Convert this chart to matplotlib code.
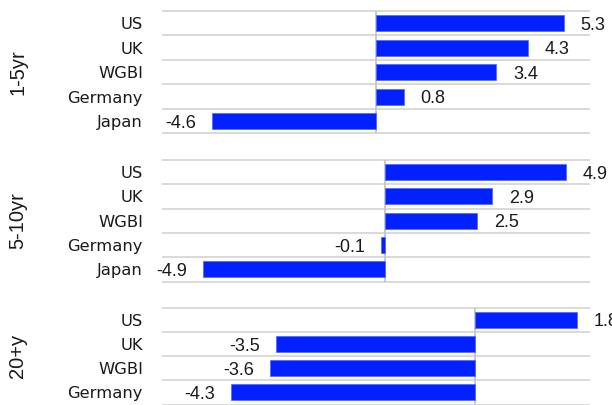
import matplotlib.pyplot as plt
import matplotlib

matplotlib.rcParams['font.family'] = ['DejaVu Sans']

# data
panels = ['1-5yr', '5-10yr', '20+y']
cats_1_5 = ['US', 'UK', 'WGBI', 'Germany', 'Japan']
vals_1_5 = [5.3, 4.3, 3.4, 0.8, -4.6]
cats_5_10 = ['US', 'UK', 'WGBI', 'Germany', 'Japan']
vals_5_10 = [4.9, 2.9, 2.5, -0.1, -4.9]
cats_20 = ['US', 'UK', 'WGBI', 'Germany']
vals_20 = [1.8, -3.5, -3.6, -4.3]

cats_all = [cats_1_5, cats_5_10, cats_20]
vals_all = [vals_1_5, vals_5_10, vals_20]
xlims = [(-6, 6), (-6, 5.5), (-5.5, 2)]

W, H = 612, 405
# axes boxes in pixels (top, bottom)
boxes = [(11, 133.3), (160, 281.5), (307.7, 404.5)]
left, right = 162.5, 588.5

bar_color = '#0320FF'
grid_color = '#d9d9d9'
txt = '#1a1a1a'

fig = plt.figure(figsize=(W / 100, H / 100), dpi=100)

for name, cats, vals, xl, (top, bot) in zip(panels, cats_all, vals_all, xlims, boxes):
    ax = fig.add_axes([left / W, 1 - bot / H, (right - left) / W, (bot - top) / H])
    y = list(range(len(cats)))
    ax.barh(y, vals, height=0.655, color=bar_color, edgecolor='#4a66ff', linewidth=0.5, zorder=3)
    ax.set_xlim(xl)
    ax.set_ylim(len(cats) - 0.5, -0.5)
    for k in range(len(cats) + 1):
        ax.axhline(k - 0.5, color=grid_color, lw=1.4, zorder=1, clip_on=False)
    ax.axvline(0, color='#c8c8c8', lw=1.4, zorder=2)
    for yi, v in zip(y, vals):
        if v >= 0:
            ax.annotate(f'{v:.1f}', (v, yi), xytext=(12, -1.5), textcoords='offset points',
                        ha='left', va='center', fontsize=13, color=txt,
                        family='Liberation Sans', annotation_clip=False)
        else:
            ax.annotate(f'{v:.1f}', (v, yi), xytext=(-11.5, -1.5), textcoords='offset points',
                        ha='right', va='center', fontsize=13, color=txt,
                        family='Liberation Sans', annotation_clip=False)
    ax.set_yticks(y)
    ax.set_yticklabels(cats, fontsize=11.8, color=txt)
    ax.tick_params(axis='y', length=0, pad=14)
    ax.set_xticks([])
    for s in ax.spines.values():
        s.set_visible(False)
    fig.text(18 / W, 1 - (top + bot) / 2 / H, name, rotation=90, ha='center', va='center',
             fontsize=14.5, color=txt, family='Liberation Sans')

plt.savefig('out.png', dpi=100)
